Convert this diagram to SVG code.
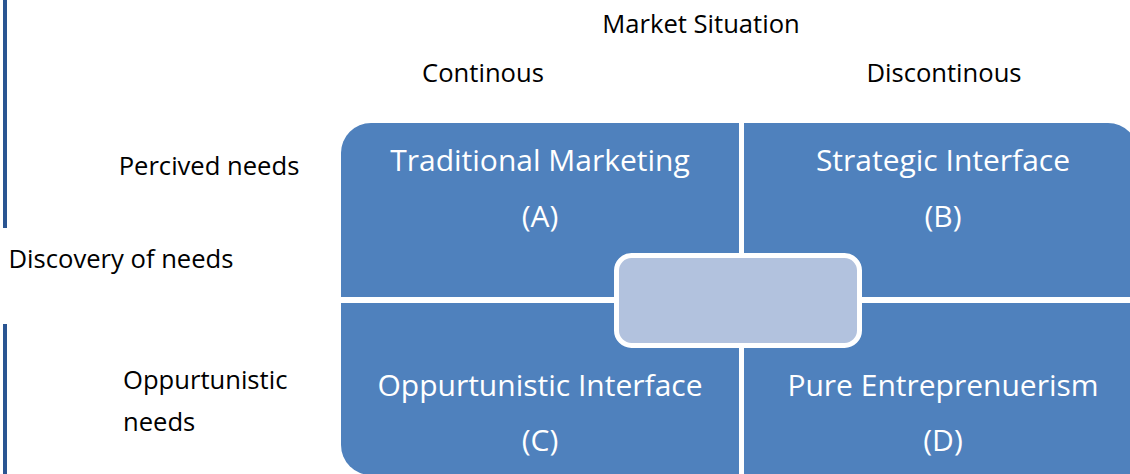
<svg xmlns="http://www.w3.org/2000/svg" width="1130" height="474" viewBox="0 0 1130 474">
<style>
.lbl{font-family:"Open Sans","Liberation Sans",sans-serif;font-size:25.6px;fill:#000}
.q{fill:#4F81BD}
.qt{font-family:"Open Sans","Liberation Sans",sans-serif;font-size:30px;fill:#fff;text-anchor:middle}
.axis{stroke:#2A5592;stroke-width:4}
</style>
<rect width="1130" height="474" fill="#fff"/>
<g id="axis-lines">
<line class="axis" x1="5" y1="0" x2="5" y2="228"/>
<line class="axis" x1="5" y1="324" x2="5" y2="474"/>
</g>
<g id="labels">
<text class="lbl" x="701" y="33" text-anchor="middle">Market Situation</text>
<text class="lbl" x="483" y="82" text-anchor="middle">Continous</text>
<text class="lbl" x="944" y="82" text-anchor="middle">Discontinous</text>
<text class="lbl" x="209" y="175" text-anchor="middle">Percived needs</text>
<text class="lbl" x="121" y="268" text-anchor="middle">Discovery of needs</text>
<text class="lbl" x="123" y="389">Oppurtunistic</text>
<text class="lbl" x="123" y="431">needs</text>
</g>
<g id="quadA">
<path class="q" d="M341,297 V153 A30,30 0 0 1 371,123 H739 V297 Z"/>
<text class="qt" x="540" y="171">Traditional Marketing</text>
<text class="qt" x="540" y="227">(A)</text>
</g>
<g id="quadB">
<path class="q" d="M744,297 V123 H1108 A30,30 0 0 1 1138,153 V297 Z"/>
<text class="qt" x="943" y="171">Strategic Interface</text>
<text class="qt" x="943" y="227">(B)</text>
</g>
<g id="quadC">
<path class="q" d="M341,303 H739 V475 H371 A30,30 0 0 1 341,445 Z"/>
<text class="qt" x="540" y="396">Oppurtunistic Interface</text>
<text class="qt" x="540" y="451">(C)</text>
</g>
<g id="quadD">
<path class="q" d="M744,303 H1140 V475 H744 Z"/>
<text class="qt" x="943" y="396">Pure Entreprenuerism</text>
<text class="qt" x="943" y="451">(D)</text>
</g>
<g id="center">
<rect x="616.5" y="255.5" width="243" height="90" rx="15" fill="#B2C2DE" stroke="#fff" stroke-width="5"/>
</g>
</svg>
